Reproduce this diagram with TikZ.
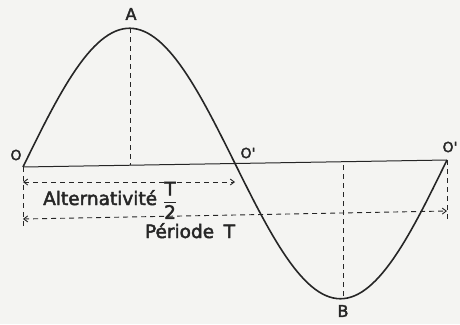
\documentclass[tikz,border=0pt]{standalone}
\usepackage{fontspec}
\setmainfont{DejaVu Sans}
\newfontfamily\medfont{DejaVu Sans}[FakeBold=2.5]
\usetikzlibrary{arrows.meta}
\definecolor{paper}{HTML}{F4F4F2}
\definecolor{ink}{HTML}{262626}
\tikzset{
  crv/.style ={draw=ink, line width=1.6pt, line join=round},
  axl/.style ={draw=ink, line width=1pt},
  dsh/.style ={draw=ink, line width=0.9pt, dash pattern=on 5pt off 4pt},
  dim/.style ={dsh, {Straight Barb[length=4pt,width=6pt]}-{Straight Barb[length=4pt,width=6pt]}},
  pt/.style  ={font=\fontsize{14}{14}\medfont, text=ink, inner sep=1pt},
  txt/.style ={font=\fontsize{18.5}{19}\medfont, text=ink, inner sep=1pt}
}

\begin{document}
\begin{tikzpicture}[x=1pt,y=-1pt]
  \fill[paper] (0,0) rectangle (460,324);
  \useasboundingbox (0,0) rectangle (460,324);
  % --- key points of the wave
  \coordinate (o)   at (23,167);
  \coordinate (op)  at (235,162);
  \coordinate (opp) at (447,160);
  \coordinate (a)   at (130,28);
  \coordinate (af)  at (130,165);
  \coordinate (b)   at (343,296);
  \coordinate (bf)  at (343,162);
  \coordinate (ol)  at (23,226);
  \coordinate (or)  at (447,222);
  % --- dimension ends
  \coordinate (d1l) at (23,182);  \coordinate (d1r) at (235,182);
  \coordinate (d2l) at (23,219);  \coordinate (d2r) at (447,211);
  % --- axis and wave
  \draw[axl] (o) -- (opp);
  \draw[crv] plot[domain=0:360, samples=120, variable=\t]
    ({23+\t*1.17778}, {167-\t*0.019444-137*sin(\t)});
  % --- dashed guides
  \draw[dsh] (a) -- (af);
  \draw[dsh] (b) -- (bf);
  \draw[dsh] (o) -- (ol);
  \draw[dsh] (opp) -- (or);
  \draw[dim] (d1l) -- (d1r);
  \draw[dim] (d2l) -- (d2r);
  % --- labels
  \node[pt] (lo)   at (16,155)  {O};
  \node[pt] (lop)  at (248,153) {O'};
  \node[pt] (lopp) at (450,147) {O'};
  \node[pt,font=\fontsize{16}{16}\medfont] (la) at (131,14) {A};
  \node[pt,font=\fontsize{16}{16}\medfont] (lb) at (343,311) {B};
  \node[txt,anchor=base west] (alt) at (42,205)
    {Alternativité \raisebox{-2pt}{$\displaystyle\frac{\mbox{T}}{\mbox{2}}$}};
  \node[txt,anchor=base] (per) at (190,238) {Période\hspace{0.2em} T};
\end{tikzpicture}
\end{document}
